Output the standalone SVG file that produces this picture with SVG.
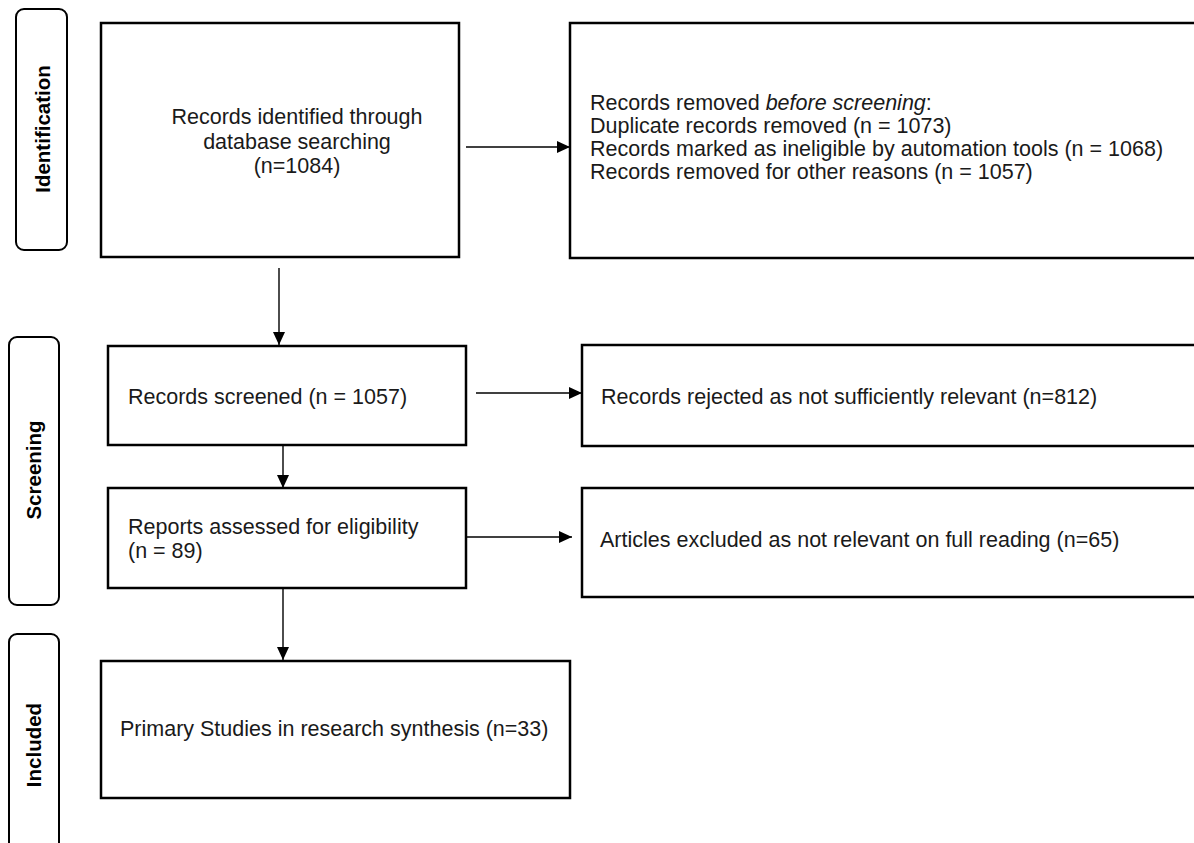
<svg xmlns="http://www.w3.org/2000/svg" width="1194" height="843" viewBox="0 0 1194 843">
<style>
.box{fill:#fff;stroke:#000;stroke-width:2.5}
.tab{fill:#fff;stroke:#000;stroke-width:2}
.t{font-family:"Liberation Sans",Arial,sans-serif;font-size:21.5px;fill:#1a1a1a}
.lab{font-family:"Liberation Sans",Arial,sans-serif;font-size:20.5px;font-weight:bold;fill:#000}
.c{stroke:#000;stroke-width:1.4;fill:none}
</style>
<defs>
<marker id="ah" markerUnits="userSpaceOnUse" markerWidth="14" markerHeight="12" refX="13" refY="6" orient="auto">
<path d="M0,0 L13,6 L0,12 Z" fill="#000"/>
</marker>
</defs>
<rect width="1194" height="843" fill="#fff"/>
<g id="tab-identification">
<rect class="tab" x="16" y="9" width="51" height="241" rx="8"/>
<text class="lab" transform="translate(50,129) rotate(-90)" text-anchor="middle">Identification</text>
</g>
<g id="tab-screening">
<rect class="tab" x="9" y="337" width="50" height="268" rx="8"/>
<text class="lab" transform="translate(41,470) rotate(-90)" text-anchor="middle">Screening</text>
</g>
<g id="tab-included">
<rect class="tab" x="9" y="634" width="50" height="240" rx="8"/>
<text class="lab" transform="translate(41,745) rotate(-90)" text-anchor="middle">Included</text>
</g>
<g id="n-identified">
<rect class="box" x="101" y="23" width="358" height="234"/>
<text class="t" text-anchor="middle"><tspan x="297" y="124">Records identified through</tspan><tspan x="297" y="149">database searching</tspan><tspan x="297" y="173">(n=1084)</tspan></text>
</g>
<g id="n-removed">
<rect class="box" x="570" y="23" width="640" height="235"/>
<text class="t"><tspan x="590" y="110">Records removed <tspan font-style="italic">before screening</tspan>:</tspan><tspan x="590" y="133">Duplicate records removed (n = 1073)</tspan><tspan x="590" y="156">Records marked as ineligible by automation tools (n = 1068)</tspan><tspan x="590" y="179">Records removed for other reasons (n = 1057)</tspan></text>
</g>
<g id="n-screened">
<rect class="box" x="108" y="346" width="358" height="99"/>
<text class="t" x="128" y="404">Records screened (n = 1057)</text>
</g>
<g id="n-rejected">
<rect class="box" x="582" y="345" width="630" height="101"/>
<text class="t" x="601" y="404">Records rejected as not sufficiently relevant (n=812)</text>
</g>
<g id="n-assessed">
<rect class="box" x="108" y="488" width="358" height="100"/>
<text class="t"><tspan x="128" y="534">Reports assessed for eligibility</tspan><tspan x="128" y="558">(n = 89)</tspan></text>
</g>
<g id="n-excluded">
<rect class="box" x="582" y="488" width="630" height="109"/>
<text class="t" x="600" y="547">Articles excluded as not relevant on full reading (n=65)</text>
</g>
<g id="n-included">
<rect class="box" x="101" y="661" width="469" height="137"/>
<text class="t" x="120" y="736">Primary Studies in research synthesis (n=33)</text>
</g>
<g id="connectors">
<line class="c" x1="466" y1="147" x2="570" y2="147" marker-end="url(#ah)"/>
<line class="c" x1="476" y1="393" x2="582" y2="393" marker-end="url(#ah)"/>
<line class="c" x1="466" y1="537" x2="572" y2="537" marker-end="url(#ah)"/>
<line class="c" x1="279" y1="268" x2="279" y2="345" marker-end="url(#ah)"/>
<line class="c" x1="283" y1="446" x2="283" y2="488" marker-end="url(#ah)"/>
<line class="c" x1="283" y1="589" x2="283" y2="660" marker-end="url(#ah)"/>
</g>
</svg>
